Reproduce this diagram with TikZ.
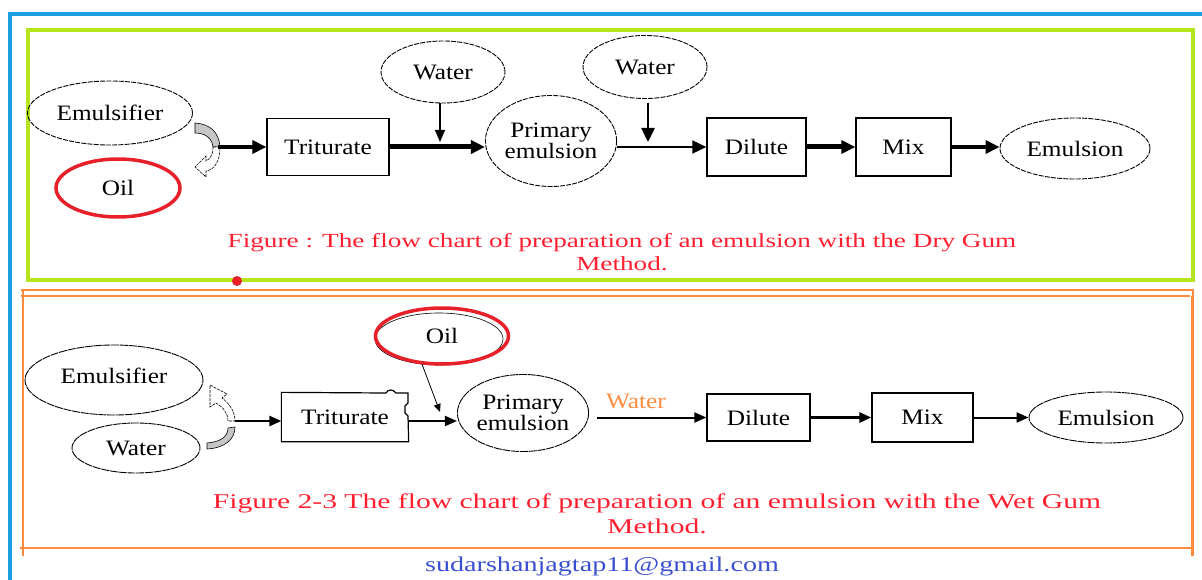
\documentclass[tikz,border=0pt]{standalone}
\usepackage{fontspec}
\setmainfont{Liberation Serif}
\newfontfamily\capfontA[FakeStretch=1.36]{Liberation Serif}
\newfontfamily\capfontB[FakeStretch=1.41]{Liberation Serif}
\newfontfamily\mailfont[FakeStretch=1.34]{Liberation Serif}
\newfontfamily\lblfont[FakeStretch=1.15]{Liberation Serif}
\usetikzlibrary{shapes.geometric,arrows.meta,calc}
\definecolor{bblue}{HTML}{1BA1E2}
\definecolor{lgreen}{HTML}{B5E61D}
\definecolor{orng}{HTML}{FF8A3D}
\definecolor{capred}{HTML}{FF1F2F}
\definecolor{oilred}{HTML}{E8202A}
\definecolor{mailblue}{HTML}{3A4FD0}
\definecolor{wtrorange}{HTML}{FF8C40}
\tikzset{
  ell/.style={ellipse, draw, dash pattern=on 5pt off 1.2pt, line width=0.9pt, inner sep=0pt, align=center, font=\lblfont\fontsize{22}{18}\selectfont},
  oilell/.style={ellipse, draw=oilred, line width=3.5pt, inner sep=0pt, font=\lblfont\fontsize{22}{18}\selectfont},
  stepbox/.style={rectangle, draw, line width=1.3pt, inner sep=0pt, font=\lblfont\fontsize{22}{18}\selectfont},
  bigarr/.style={-{Triangle[length=14pt,width=13pt]}},
  smallarr/.style={-{Triangle[length=12pt,width=10pt]}},
  capst/.style={text=capred, align=center, font=\capfontA\fontsize{20}{23}\selectfont},
}
\begin{document}
\begin{tikzpicture}[x=1pt,y=-1pt]
\useasboundingbox (0,0) rectangle (1202,580);
% frames
\draw[bblue, line width=4pt] (10,600) -- (10,14) -- (1230,14);
\draw[lgreen, line width=4pt] (28,30) rectangle (1193,280);
\fill[oilred] (237,281) circle (5);
\draw[orng, line width=1.3pt] (21,290) -- (1193,290) -- (1193,296);
\draw[orng, line width=1.3pt] (21,296) -- (1190,296);
\draw[orng, line width=1.3pt] (23,289) -- (23,556);
\draw[orng, line width=1.3pt] (20,548) -- (1192,548);
\draw[orng, line width=3pt] (1192,296) -- (1192,556);

% ---------- top (dry gum) ----------
\node[ell, minimum width=165pt, minimum height=64pt] (em1) at (110,113) {Emulsifier};
\node[oilell, minimum width=124pt, minimum height=58pt] (oil1) at (118,188) {Oil};
\node[stepbox, minimum width=122pt, minimum height=57pt] (tri1) at (328,147) {Triturate};
\node[ell, minimum width=124pt, minimum height=62pt] (wat1) at (443,72) {Water};
\node[ell, minimum width=123pt, minimum height=91pt] (pe1) at (551,141) {Primary\\emulsion};
\node[ell, minimum width=124pt, minimum height=63pt] (wat2) at (645,67) {Water};
\node[stepbox, minimum width=99pt, minimum height=58pt] (dil1) at (756.5,147) {Dilute};
\node[stepbox, minimum width=95pt, minimum height=58pt] (mix1) at (903.5,147) {Mix};
\node[ell, minimum width=150pt, minimum height=61pt] (emu1) at (1075,148.5) {Emulsion};

% curved arrow pair (top)
\filldraw[fill=gray!45, draw=black, line width=0.6pt] (195,123) .. controls (210,124) and (219,132) .. (220,147) -- (213,147) .. controls (212,138) and (205,133) .. (195,133) -- cycle;
\filldraw[fill=white, draw=black, line width=0.6pt, dash pattern=on 3pt off 1pt] (213,147) .. controls (213,155) and (210,159) .. (206,161) -- (206,156) -- (195,167) -- (206,177) -- (206,171) .. controls (214,170) and (220,162) .. (220,147) -- cycle;
\coordinate (j1) at (218,147);
\coordinate (w1end) at (440,142);
\coordinate (w1start) at (440,103);
\coordinate (w2end) at (648,142);
\coordinate (w2start) at (648,103);

\draw[bigarr, line width=3.5pt] (j1) -- (tri1.west);
\draw[bigarr, line width=5pt] (tri1.east) -- (tri1.east -| pe1.west);
\draw[smallarr, line width=1.5pt] (w1start) -- (w1end);
\draw[bigarr, line width=2pt] (pe1.east |- dil1.west) -- (dil1.west);
\draw[bigarr, line width=2.5pt] (w2start) -- (w2end);
\draw[bigarr, line width=5pt] (dil1.east) -- (mix1.west);
\draw[bigarr, line width=4pt] (mix1.east) -- (mix1.east -| emu1.west);

\node[capst] (cap1) at (622,252) {Figure : The flow chart of preparation of an emulsion with the Dry Gum\\Method.};

% ---------- bottom (wet gum) ----------
\node[ell, minimum width=178pt, minimum height=70pt, dash pattern=on 8pt off 0.8pt] (em2) at (114,380) {\raisebox{9pt}{Emulsifier}};
\node[ell, minimum width=128pt, minimum height=50pt, dash pattern=on 8pt off 0.8pt] (wat3) at (136,448) {Water};
\node[stepbox, draw=none, minimum width=126pt, minimum height=48pt] (tri2) at (345,417) {Triturate};
\draw[line width=1.2pt] (tri2.north west) -- (386,393) .. controls (388,389) and (393,389) .. (396,393) -- (408,393) -- (408,403) -- (405,406) -- (405,413) -- (408,416) -- (tri2.south east) -- (tri2.south west) -- cycle;
\draw[black, line width=0.6pt] (439,339) ellipse (64pt and 26pt);
\node[oilell, minimum width=133pt, minimum height=56pt] (oil2) at (442,336) {Oil};
\node[ell, minimum width=127pt, minimum height=77pt, dash pattern=on 8pt off 0.8pt] (pe2) at (523,413) {Primary\\emulsion};
\node[stepbox, minimum width=103pt, minimum height=47pt] (dil2) at (758.5,417.5) {Dilute};
\node[stepbox, minimum width=101pt, minimum height=49pt] (mix2) at (922.5,417.5) {Mix};
\node[ell, minimum width=154pt, minimum height=51pt, dash pattern=on 8pt off 0.8pt] (emu2) at (1106,417.5) {Emulsion};

% curved arrow pair (bottom)
\filldraw[fill=white, draw=black, line width=0.6pt, dash pattern=on 3pt off 1pt] (228,421) .. controls (228,413) and (223,407) .. (216,403) -- (210,407) -- (210,385) -- (227,394) -- (222,398) .. controls (230,404) and (235,412) .. (235,421) -- cycle;
\filldraw[fill=gray!45, draw=black, line width=0.6pt] (228,428) .. controls (228,437) and (220,442) .. (207,443) -- (207,449) .. controls (224,448) and (235,440) .. (235,427) -- cycle;
\coordinate (j2) at (235,421);
\coordinate (o2end) at (440,412);

\draw[smallarr, line width=2.5pt] (j2) -- (tri2.west |- j2);
\draw[smallarr, line width=2pt] (408,421) -- (pe2.west |- 0,421);
\draw[-{Triangle[length=8pt,width=7pt]}, line width=0.8pt] (oil2.-125) -- (o2end);
\draw[smallarr, line width=2pt, shorten <=8pt] (pe2.east |- dil2.west) -- node[pos=0.4, above=4pt, text=wtrorange, font=\lblfont\fontsize{22}{18}\selectfont] {Water} (dil2.west);
\draw[smallarr, line width=3pt] (dil2.east) -- (dil2.east -| mix2.west);
\draw[smallarr, line width=2pt] (mix2.east) -- (emu2.west);

\node[capst, font=\capfontB\fontsize{21}{25}\selectfont] (cap2) at (657,514) {Figure 2-3 The flow chart of preparation of an emulsion with the Wet Gum\\Method.};

\node[text=mailblue, font=\mailfont\fontsize{21}{24}\selectfont] (mail) at (602,566) {sudarshanjagtap11@gmail.com};
\end{tikzpicture}
\end{document}
